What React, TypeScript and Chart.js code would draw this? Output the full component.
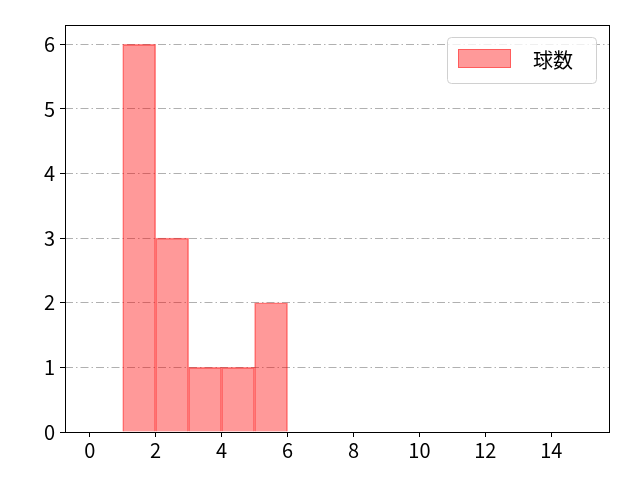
import { useEffect, useRef } from "react";
import { Chart, registerables } from "chart.js";

Chart.register(...registerables);

// histogram bins (left edge .. right edge) and counts
const binStarts = [1, 2, 3, 4, 5];
const counts = [6, 3, 1, 1, 2];
const xTicks = [0, 2, 4, 6, 8, 10, 12, 14];
const yTicks = [0, 1, 2, 3, 4, 5, 6];
const seriesLabel = "球数";

const FONT = "'Noto Sans CJK JP', 'Noto Sans', sans-serif";

const frameAndLegend = {
  id: "frameAndLegend",
  afterDraw(chart: Chart) {
    const { ctx, chartArea } = chart;
    ctx.save();
    // axes box
    ctx.strokeStyle = "#000";
    ctx.lineWidth = 1;
    ctx.strokeRect(
      Math.round(chartArea.left) + 0.5,
      Math.round(chartArea.top) + 0.5,
      Math.round(chartArea.right - chartArea.left),
      Math.round(chartArea.bottom - chartArea.top)
    );
    // legend in upper right
    const w = 149;
    const h = 46;
    const x = chartArea.right - 13 - w;
    const y = chartArea.top + 12;
    ctx.beginPath();
    ctx.roundRect(x + 0.5, y + 0.5, w, h, 4);
    ctx.fillStyle = "rgba(255,255,255,0.8)";
    ctx.fill();
    ctx.strokeStyle = "#d0d0d0";
    ctx.stroke();
    ctx.fillStyle = "rgba(255,0,0,0.4)";
    ctx.fillRect(x + 11, y + 12, 53, 19);
    ctx.strokeStyle = "rgba(255,0,0,0.4)";
    ctx.strokeRect(x + 11.5, y + 12.5, 52, 18);
    ctx.fillStyle = "#000";
    ctx.font = `20px ${FONT}`;
    ctx.textBaseline = "middle";
    ctx.fillText(seriesLabel, x + 86, y + 23);
    ctx.restore();
  },
};

export default function App() {
  const chartRef = useRef<HTMLCanvasElement>(null);
  const chartInstance = useRef<Chart | null>(null);

  useEffect(() => {
    if (!chartRef.current) return;
    const ctx = chartRef.current.getContext("2d");
    if (!ctx) return;
    if (chartInstance.current) chartInstance.current.destroy();

    chartInstance.current = new Chart(ctx, {
      type: "bar",
      data: {
        datasets: [
          {
            label: seriesLabel,
            data: binStarts.map((s, i) => ({ x: s + 0.5, y: counts[i] })),
            backgroundColor: "rgba(255,0,0,0.4)",
            borderColor: "rgba(255,0,0,0.45)",
            borderWidth: 1,
            barPercentage: 1,
            categoryPercentage: 1,
          },
        ],
      },
      plugins: [frameAndLegend],
      options: {
        responsive: false,
        animation: false,
        layout: { padding: { left: 0, right: 31, top: 25, bottom: 0 } },
        plugins: {
          legend: { display: false },
          tooltip: { enabled: false },
        },
        scales: {
          x: {
            type: "linear",
            offset: false,
            min: -0.75,
            max: 15.75,
            afterBuildTicks: (scale: any) => {
              scale.ticks = xTicks.map((v) => ({ value: v }));
            },
            afterFit: (scale: any) => {
              scale.height = 48;
            },
            grid: {
              offset: false,
              drawOnChartArea: false,
              drawTicks: true,
              tickLength: 5,
              tickColor: "#000",
            },
            border: { display: false },
            ticks: {
              color: "#000",
              font: { family: FONT, size: 20 },
              padding: 1,
              maxRotation: 0,
              autoSkip: false,
            },
          },
          y: {
            min: 0,
            max: 6.3,
            afterBuildTicks: (scale: any) => {
              scale.ticks = yTicks.map((v) => ({ value: v }));
            },
            afterFit: (scale: any) => {
              scale.width = 65;
            },
            grid: {
              color: "#b0b0b0",
              lineWidth: 1,
              drawTicks: true,
              tickLength: 5,
              tickColor: "#000",
              tickBorderDash: [],
            },
            border: { display: false, dash: [8, 3, 1.5, 3] },
            ticks: {
              color: "#000",
              font: { family: FONT, size: 20 },
              padding: 5,
            },
          },
        },
      },
    });

    return () => {
      if (chartInstance.current) {
        chartInstance.current.destroy();
        chartInstance.current = null;
      }
    };
  }, []);

  return (
    <div style={{ position: "absolute", left: 0, top: 0, width: 640, height: 480, background: "#fff" }}>
      <canvas ref={chartRef} width={640} height={480} />
    </div>
  );
}
